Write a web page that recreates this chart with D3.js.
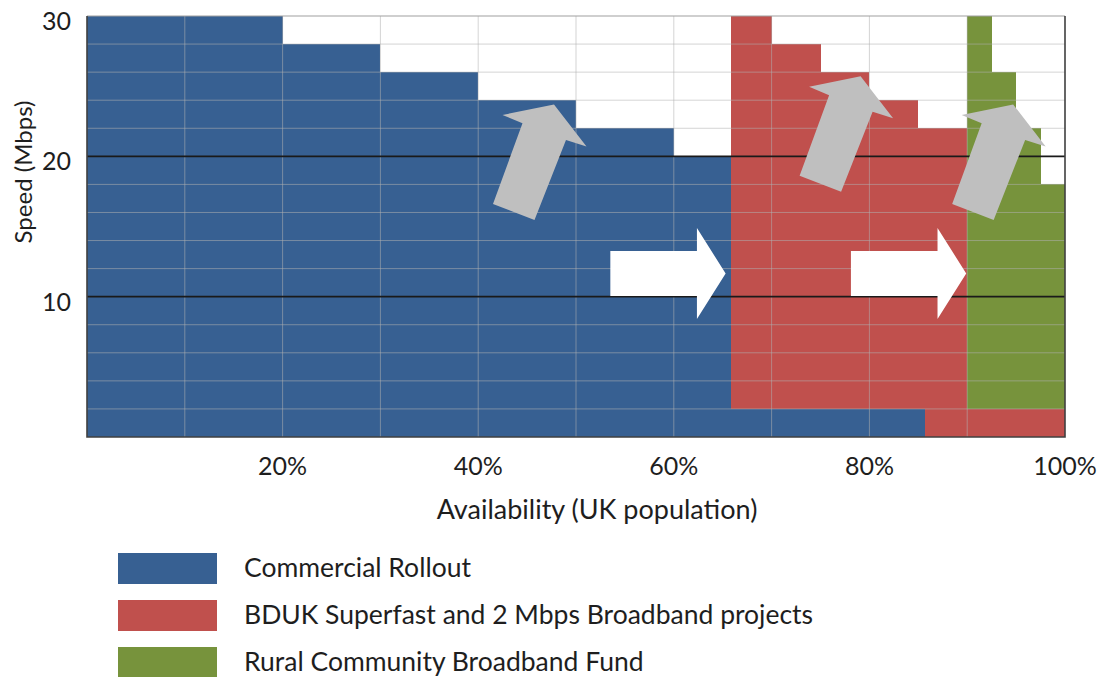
<!DOCTYPE html>
<html>
<head>
<meta charset="utf-8">
<script src="https://cdn.jsdelivr.net/npm/d3@7/dist/d3.min.js"></script>
<style>
  html, body { margin: 0; padding: 0; background: #ffffff; }
  svg { display: block; }
  text { font-family: Lato, "Open Sans", sans-serif; fill: #1e1e1e; }
</style>
</head>
<body>
<svg id="chart" width="1106" height="677"></svg>
<script>
// Broadband speed by share of UK population covered, split by funding route.
// Each band: availability from/to (% of population), speed low/high (Mbps).
const commercialFrom = [0, 20, 30, 40, 50, 60, 65.8];
const commercialTo   = [20, 30, 40, 50, 60, 65.8, 85.7];
const commercialLow  = [0, 0, 0, 0, 0, 0, 0];
const commercialHigh = [30, 28, 26, 24, 22, 20, 2];

const bdukFrom = [65.8, 70, 75, 80, 85, 85.7];
const bdukTo   = [70, 75, 80, 85, 90, 100];
const bdukLow  = [2, 2, 2, 2, 2, 0];
const bdukHigh = [30, 28, 26, 24, 22, 2];

const rcbfFrom = [90, 92.5, 95, 97.5];
const rcbfTo   = [92.5, 95, 97.5, 100];
const rcbfLow  = [2, 2, 2, 2];
const rcbfHigh = [30, 26, 22, 18];

const seriesNames = [
  "Commercial Rollout",
  "BDUK Superfast and 2 Mbps Broadband projects",
  "Rural Community Broadband Fund"
];

const xTicks = [20, 40, 60, 80, 100];
const yTicks = [10, 20, 30];
const xTitle = "Availability (UK population)";
const yTitle = "Speed (Mbps)";

// Annotation anchors (arrow tips) in data units: [availability %, speed Mbps]
const upgradeArrowTips = [[47.75, 23.7], [79.1, 25.7], [94.7, 23.7]];
const handoverArrowTips = [[65.3, 11.65], [89.9, 11.65]];

// ---- build series ----
function bands(from, to, low, high) {
  return from.map((f, i) => ({ x0: f, x1: to[i], y0: low[i], y1: high[i] }));
}
const colors = ["#376092", "#c0504d", "#77933c"];
const series = [
  bands(commercialFrom, commercialTo, commercialLow, commercialHigh),
  bands(bdukFrom, bdukTo, bdukLow, bdukHigh),
  bands(rcbfFrom, rcbfTo, rcbfLow, rcbfHigh)
];

// ---- layout ----
const svg = d3.select("#chart");
const plot = { left: 87, top: 16, right: 1065, bottom: 437 };

const x = d3.scaleLinear().domain([0, 100]).range([plot.left, plot.right]);
const y = d3.scaleLinear().domain([0, 30]).range([plot.bottom, plot.top]);

// ---- bands ----
const bandLayer = svg.append("g");
series.forEach((s, i) => {
  bandLayer.append("g")
    .attr("fill", colors[i])
    .selectAll("rect")
    .data(s)
    .join("rect")
    .attr("x", d => x(d.x0))
    .attr("y", d => y(d.y1))
    .attr("width", d => x(d.x1) - x(d.x0))
    .attr("height", d => y(d.y0) - y(d.y1))
    .attr("shape-rendering", "crispEdges");
});

// ---- light grid (every 10% and every 2 Mbps) ----
const grid = svg.append("g")
  .attr("stroke", "#b0b0b0")
  .attr("stroke-opacity", 0.55)
  .attr("stroke-width", 1);
grid.selectAll("line.v")
  .data(d3.range(10, 100, 10))
  .join("line")
  .attr("class", "v")
  .attr("x1", d => x(d)).attr("x2", d => x(d))
  .attr("y1", plot.top).attr("y2", plot.bottom);
grid.selectAll("line.h")
  .data(d3.range(2, 30, 2).filter(v => v % 10 !== 0))
  .join("line")
  .attr("class", "h")
  .attr("x1", plot.left).attr("x2", plot.right)
  .attr("y1", d => y(d)).attr("y2", d => y(d));

// ---- major speed lines ----
svg.append("g")
  .attr("stroke", "#1a1a1a")
  .attr("stroke-width", 1.8)
  .selectAll("line")
  .data([10, 20])
  .join("line")
  .attr("x1", plot.left).attr("x2", plot.right)
  .attr("y1", d => y(d)).attr("y2", d => y(d));

// ---- arrows ----
// Upgrade arrow outline relative to its tip (pixels)
const upgradeShape = [[0, 0], [32.5, 42], [12, 35.5], [-19.5, 115.5], [-61, 99.5], [-31.5, 18.8], [-51.5, 10.5]];
svg.append("g")
  .attr("fill", "#bfbfbf")
  .selectAll("path")
  .data(upgradeArrowTips)
  .join("path")
  .attr("d", d => {
    const tx = x(d[0]), ty = y(d[1]);
    return "M" + upgradeShape.map(p => [tx + p[0], ty + p[1]].join(",")).join("L") + "Z";
  });

// Hand-over arrow outline relative to its tip (pixels)
const handoverShape = [[0, 0], [-28.7, 45.5], [-28.7, 22.5], [-115.3, 22.5], [-115.3, -22.5], [-28.7, -22.5], [-28.7, -45.5]];
svg.append("g")
  .attr("fill", "#ffffff")
  .selectAll("path")
  .data(handoverArrowTips)
  .join("path")
  .attr("d", d => {
    const tx = x(d[0]), ty = y(d[1]);
    return "M" + handoverShape.map(p => [tx + p[0], ty + p[1]].join(",")).join("L") + "Z";
  });

// ---- frame ----
svg.append("line")
  .attr("x1", plot.left).attr("x2", plot.right)
  .attr("y1", plot.top).attr("y2", plot.top)
  .attr("stroke", "#a0a0a0").attr("stroke-width", 1.2);
svg.append("path")
  .attr("d", `M${plot.left},${plot.top}V${plot.bottom}H${plot.right}V${plot.top}`)
  .attr("fill", "none")
  .attr("stroke", "#404040")
  .attr("stroke-width", 1.6);

// ---- tick labels ----
svg.append("g")
  .attr("class", "x-ticks")
  .selectAll("text")
  .data(xTicks)
  .join("text")
  .attr("x", d => x(d))
  .attr("y", plot.bottom + 38)
  .attr("text-anchor", "middle")
  .attr("font-size", 25)
  .text(d => d + "%");

svg.append("g")
  .attr("class", "y-ticks")
  .selectAll("text")
  .data(yTicks)
  .join("text")
  .attr("x", plot.left - 16)
  .attr("y", d => y(d) + 14)
  .attr("text-anchor", "end")
  .attr("font-size", 25)
  .text(d => d);

// ---- axis titles ----
svg.append("text")
  .attr("x", 597).attr("y", 519)
  .attr("text-anchor", "middle")
  .attr("font-size", 27)
  .text(xTitle);

svg.append("text")
  .attr("transform", "translate(32,172) rotate(-90)")
  .attr("text-anchor", "middle")
  .attr("font-size", 24)
  .text(yTitle);

// ---- legend ----
const legend = svg.append("g")
  .attr("class", "legend")
  .selectAll("g")
  .data(seriesNames)
  .join("g")
  .attr("transform", (d, i) => `translate(118,${553 + i * 47})`);
legend.append("rect")
  .attr("width", 99).attr("height", 31)
  .attr("fill", (d, i) => colors[i]);
legend.append("text")
  .attr("x", 126).attr("y", 24)
  .attr("font-size", 26.5)
  .text(d => d);
</script>
</body>
</html>
